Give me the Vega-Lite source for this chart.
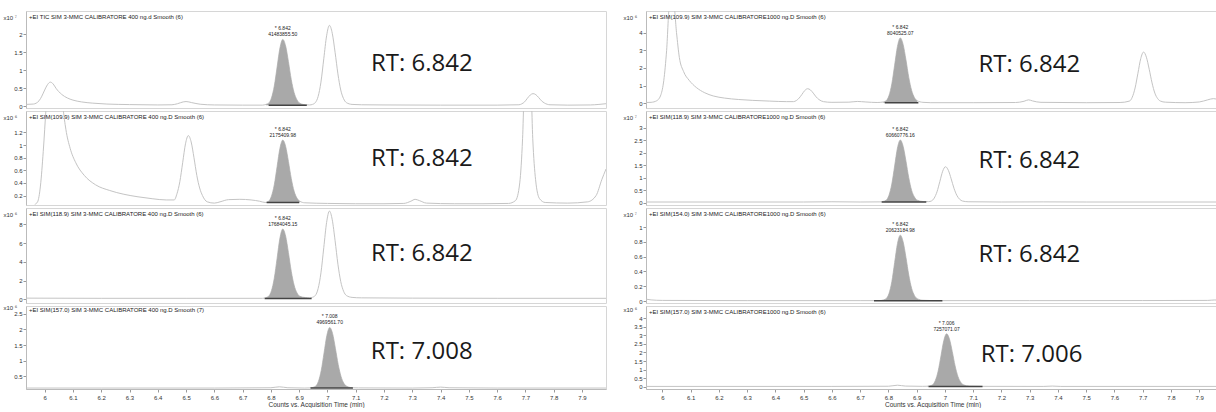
{
  "$schema": "https://vega.github.io/schema/vega-lite/v6.json",
  "padding": {"left": 2, "top": 10, "right": 0, "bottom": 0},
  "background": "white",
  "spacing": 15,
  "config": {
    "font": "Liberation Sans",
    "view": {"stroke": "#d6d6d6", "strokeWidth": 1},
    "axis": {"labelFontSize": 6, "labelColor": "#333333", "tickColor": "#999999", "tickSize": 3, "domainColor": "#bbbbbb", "grid": false, "labelPadding": 1, "titleFontWeight": "normal", "titleFontSize": 6, "titleColor": "#333333", "format": "~g"},
    "axisY": {"titleAngle": 0, "titleAlign": "left", "titleBaseline": "middle", "titleX": -23, "titleY": 6},
    "title": {"anchor": "start", "frame": "group", "fontSize": 6, "fontWeight": "normal", "offset": -9, "dx": 3, "color": "#222222"}
  },
  "datasets": {
    "ann": [
      {"p":"L1","rt":6.842,"h":1.86,"area":"41483855.50","b0":6.792,"b1":6.927,"base":0.03},
      {"p":"L2","rt":6.842,"h":1.08,"area":"2175409.98","b0":6.785,"b1":6.9,"base":0.09},
      {"p":"L3","rt":6.842,"h":7.5,"area":"17684045.15","b0":6.778,"b1":6.944,"base":0.08},
      {"p":"L4","rt":7.008,"h":2.06,"area":"4969561.70","b0":6.94,"b1":7.09,"base":0.13},
      {"p":"R1","rt":6.842,"h":3.7,"area":"8040525.07","b0":6.787,"b1":6.906,"base":0.04},
      {"p":"R2","rt":6.842,"h":2.5,"area":"60660776.16","b0":6.776,"b1":6.934,"base":0.02},
      {"p":"R3","rt":6.842,"h":0.89,"area":"20623184.98","b0":6.749,"b1":6.991,"base":0.004},
      {"p":"R4","rt":7.006,"h":3.09,"area":"7257071.07","b0":6.942,"b1":7.133,"base":0.03}
    ],
    "L1": [{"t":5.934,"v":0.05},{"t":5.96,"v":0.06},{"t":5.98,"v":0.15},{"t":5.99,"v":0.28},{"t":6.0,"v":0.45},{"t":6.01,"v":0.6},{"t":6.02,"v":0.67},{"t":6.03,"v":0.62},{"t":6.04,"v":0.5},{"t":6.06,"v":0.33},{"t":6.08,"v":0.23},{"t":6.1,"v":0.17},{"t":6.13,"v":0.12},{"t":6.17,"v":0.085},{"t":6.22,"v":0.06},{"t":6.3,"v":0.045},{"t":6.4,"v":0.035},{"t":6.45,"v":0.04},{"t":6.47,"v":0.07},{"t":6.49,"v":0.12},{"t":6.5,"v":0.13},{"t":6.52,"v":0.1},{"t":6.55,"v":0.055},{"t":6.6,"v":0.035},{"t":6.7,"v":0.03},{"t":6.77,"v":0.03},{"t":6.782,"v":0.05},{"t":6.792,"v":0.085},{"t":6.802,"v":0.23},{"t":6.812,"v":0.56},{"t":6.822,"v":1.09},{"t":6.832,"v":1.62},{"t":6.842,"v":1.86},{"t":6.852,"v":1.68},{"t":6.862,"v":1.24},{"t":6.872,"v":0.74},{"t":6.882,"v":0.38},{"t":6.892,"v":0.18},{"t":6.902,"v":0.085},{"t":6.922,"v":0.04},{"t":6.937,"v":0.035},{"t":6.947,"v":0.05},{"t":6.957,"v":0.1},{"t":6.967,"v":0.27},{"t":6.977,"v":0.67},{"t":6.987,"v":1.32},{"t":6.997,"v":1.96},{"t":7.007,"v":2.25},{"t":7.017,"v":2.03},{"t":7.027,"v":1.5},{"t":7.037,"v":0.9},{"t":7.047,"v":0.45},{"t":7.057,"v":0.21},{"t":7.067,"v":0.1},{"t":7.087,"v":0.05},{"t":7.12,"v":0.04},{"t":7.2,"v":0.035},{"t":7.4,"v":0.03},{"t":7.6,"v":0.03},{"t":7.677,"v":0.04},{"t":7.687,"v":0.065},{"t":7.697,"v":0.12},{"t":7.707,"v":0.22},{"t":7.717,"v":0.31},{"t":7.727,"v":0.35},{"t":7.737,"v":0.32},{"t":7.747,"v":0.24},{"t":7.757,"v":0.15},{"t":7.767,"v":0.09},{"t":7.787,"v":0.04},{"t":7.85,"v":0.03},{"t":7.93,"v":0.035},{"t":7.96,"v":0.05},{"t":7.985,"v":0.07}],
    "L2": [{"t":5.965,"v":0.06},{"t":5.975,"v":0.1},{"t":5.985,"v":0.35},{"t":5.995,"v":0.9},{"t":6.005,"v":1.6},{"t":6.02,"v":2.6},{"t":6.04,"v":3.0},{"t":6.055,"v":2.2},{"t":6.065,"v":1.6},{"t":6.075,"v":1.25},{"t":6.09,"v":0.95},{"t":6.11,"v":0.72},{"t":6.14,"v":0.52},{"t":6.18,"v":0.37},{"t":6.23,"v":0.28},{"t":6.28,"v":0.22},{"t":6.33,"v":0.18},{"t":6.38,"v":0.15},{"t":6.43,"v":0.13},{"t":6.458,"v":0.13},{"t":6.468,"v":0.23},{"t":6.478,"v":0.42},{"t":6.488,"v":0.72},{"t":6.498,"v":1.02},{"t":6.508,"v":1.15},{"t":6.518,"v":1.05},{"t":6.528,"v":0.8},{"t":6.538,"v":0.52},{"t":6.548,"v":0.32},{"t":6.558,"v":0.2},{"t":6.575,"v":0.1},{"t":6.6,"v":0.08},{"t":6.62,"v":0.1},{"t":6.65,"v":0.135},{"t":6.69,"v":0.14},{"t":6.73,"v":0.13},{"t":6.76,"v":0.11},{"t":6.78,"v":0.09},{"t":6.792,"v":0.11},{"t":6.802,"v":0.19},{"t":6.812,"v":0.37},{"t":6.822,"v":0.66},{"t":6.832,"v":0.95},{"t":6.842,"v":1.08},{"t":6.852,"v":0.98},{"t":6.862,"v":0.74},{"t":6.872,"v":0.47},{"t":6.882,"v":0.27},{"t":6.892,"v":0.16},{"t":6.902,"v":0.11},{"t":6.92,"v":0.085},{"t":7.0,"v":0.075},{"t":7.1,"v":0.07},{"t":7.2,"v":0.07},{"t":7.27,"v":0.075},{"t":7.295,"v":0.11},{"t":7.31,"v":0.14},{"t":7.325,"v":0.12},{"t":7.35,"v":0.08},{"t":7.45,"v":0.07},{"t":7.55,"v":0.07},{"t":7.64,"v":0.075},{"t":7.665,"v":0.12},{"t":7.68,"v":0.4},{"t":7.69,"v":1.1},{"t":7.7,"v":2.4},{"t":7.716,"v":2.4},{"t":7.726,"v":1.1},{"t":7.736,"v":0.45},{"t":7.75,"v":0.15},{"t":7.77,"v":0.09},{"t":7.85,"v":0.08},{"t":7.92,"v":0.1},{"t":7.95,"v":0.2},{"t":7.97,"v":0.45},{"t":7.985,"v":0.62}],
    "L3": [{"t":5.934,"v":0.12},{"t":6.2,"v":0.1},{"t":6.5,"v":0.1},{"t":6.77,"v":0.1},{"t":6.782,"v":0.17},{"t":6.792,"v":0.32},{"t":6.802,"v":0.91},{"t":6.812,"v":2.25},{"t":6.822,"v":4.39},{"t":6.832,"v":6.54},{"t":6.842,"v":7.5},{"t":6.852,"v":6.76},{"t":6.862,"v":4.98},{"t":6.872,"v":2.99},{"t":6.882,"v":1.51},{"t":6.892,"v":0.69},{"t":6.902,"v":0.32},{"t":6.922,"v":0.18},{"t":6.937,"v":0.14},{"t":6.947,"v":0.21},{"t":6.957,"v":0.4},{"t":6.967,"v":1.14},{"t":6.977,"v":2.82},{"t":6.987,"v":5.51},{"t":6.997,"v":8.21},{"t":7.007,"v":9.42},{"t":7.017,"v":8.49},{"t":7.027,"v":6.26},{"t":7.037,"v":3.75},{"t":7.047,"v":1.89},{"t":7.057,"v":0.86},{"t":7.067,"v":0.4},{"t":7.087,"v":0.2},{"t":7.12,"v":0.15},{"t":7.3,"v":0.12},{"t":7.6,"v":0.1},{"t":7.985,"v":0.1}],
    "L4": [{"t":5.934,"v":0.13},{"t":6.2,"v":0.13},{"t":6.6,"v":0.13},{"t":6.8,"v":0.14},{"t":6.83,"v":0.17},{"t":6.86,"v":0.14},{"t":6.92,"v":0.13},{"t":6.938,"v":0.135},{"t":6.948,"v":0.15},{"t":6.958,"v":0.19},{"t":6.968,"v":0.34},{"t":6.978,"v":0.69},{"t":6.988,"v":1.25},{"t":6.998,"v":1.81},{"t":7.008,"v":2.06},{"t":7.018,"v":1.87},{"t":7.028,"v":1.4},{"t":7.038,"v":0.88},{"t":7.048,"v":0.5},{"t":7.058,"v":0.28},{"t":7.068,"v":0.19},{"t":7.088,"v":0.14},{"t":7.11,"v":0.135},{"t":7.3,"v":0.13},{"t":7.37,"v":0.14},{"t":7.4,"v":0.16},{"t":7.43,"v":0.14},{"t":7.6,"v":0.13},{"t":7.985,"v":0.13}],
    "R1": [{"t":5.942,"v":0.05},{"t":5.96,"v":0.06},{"t":5.98,"v":0.15},{"t":5.995,"v":0.5},{"t":6.005,"v":1.3},{"t":6.015,"v":3.0},{"t":6.025,"v":5.5},{"t":6.04,"v":5.6},{"t":6.05,"v":4.0},{"t":6.06,"v":2.6},{"t":6.075,"v":1.8},{"t":6.095,"v":1.3},{"t":6.12,"v":0.9},{"t":6.15,"v":0.6},{"t":6.18,"v":0.42},{"t":6.22,"v":0.3},{"t":6.27,"v":0.22},{"t":6.32,"v":0.17},{"t":6.38,"v":0.13},{"t":6.44,"v":0.1},{"t":6.464,"v":0.1},{"t":6.474,"v":0.16},{"t":6.484,"v":0.3},{"t":6.494,"v":0.51},{"t":6.504,"v":0.73},{"t":6.514,"v":0.83},{"t":6.524,"v":0.76},{"t":6.534,"v":0.58},{"t":6.544,"v":0.37},{"t":6.554,"v":0.22},{"t":6.57,"v":0.1},{"t":6.6,"v":0.06},{"t":6.66,"v":0.07},{"t":6.69,"v":0.11},{"t":6.72,"v":0.08},{"t":6.76,"v":0.05},{"t":6.782,"v":0.08},{"t":6.792,"v":0.15},{"t":6.802,"v":0.44},{"t":6.812,"v":1.1},{"t":6.822,"v":2.16},{"t":6.832,"v":3.22},{"t":6.842,"v":3.7},{"t":6.852,"v":3.33},{"t":6.862,"v":2.46},{"t":6.872,"v":1.47},{"t":6.882,"v":0.74},{"t":6.892,"v":0.33},{"t":6.902,"v":0.15},{"t":6.922,"v":0.06},{"t":6.95,"v":0.04},{"t":7.1,"v":0.04},{"t":7.25,"v":0.05},{"t":7.28,"v":0.12},{"t":7.296,"v":0.2},{"t":7.31,"v":0.14},{"t":7.34,"v":0.06},{"t":7.5,"v":0.04},{"t":7.62,"v":0.05},{"t":7.653,"v":0.13},{"t":7.663,"v":0.35},{"t":7.673,"v":0.87},{"t":7.683,"v":1.7},{"t":7.693,"v":2.53},{"t":7.703,"v":2.9},{"t":7.713,"v":2.61},{"t":7.723,"v":1.93},{"t":7.733,"v":1.16},{"t":7.743,"v":0.58},{"t":7.753,"v":0.27},{"t":7.763,"v":0.13},{"t":7.78,"v":0.07},{"t":7.85,"v":0.04},{"t":7.9,"v":0.08},{"t":7.93,"v":0.2},{"t":7.95,"v":0.27},{"t":7.97,"v":0.2}],
    "R2": [{"t":5.942,"v":0.02},{"t":6.5,"v":0.02},{"t":6.6,"v":0.03},{"t":6.7,"v":0.02},{"t":6.77,"v":0.025},{"t":6.782,"v":0.045},{"t":6.792,"v":0.094},{"t":6.802,"v":0.29},{"t":6.812,"v":0.74},{"t":6.822,"v":1.46},{"t":6.832,"v":2.18},{"t":6.842,"v":2.5},{"t":6.852,"v":2.25},{"t":6.862,"v":1.66},{"t":6.872,"v":0.99},{"t":6.882,"v":0.49},{"t":6.892,"v":0.22},{"t":6.902,"v":0.094},{"t":6.922,"v":0.04},{"t":6.942,"v":0.035},{"t":6.952,"v":0.06},{"t":6.962,"v":0.175},{"t":6.972,"v":0.43},{"t":6.982,"v":0.84},{"t":6.992,"v":1.25},{"t":7.002,"v":1.43},{"t":7.012,"v":1.29},{"t":7.022,"v":0.95},{"t":7.032,"v":0.57},{"t":7.042,"v":0.29},{"t":7.052,"v":0.13},{"t":7.062,"v":0.06},{"t":7.082,"v":0.03},{"t":7.2,"v":0.02},{"t":7.35,"v":0.025},{"t":7.5,"v":0.02},{"t":7.97,"v":0.02}],
    "R3": [{"t":5.942,"v":0.025},{"t":5.96,"v":0.015},{"t":6.0,"v":0.008},{"t":6.3,"v":0.005},{"t":6.7,"v":0.005},{"t":6.75,"v":0.005},{"t":6.77,"v":0.006},{"t":6.782,"v":0.014},{"t":6.792,"v":0.032},{"t":6.802,"v":0.1},{"t":6.812,"v":0.26},{"t":6.822,"v":0.52},{"t":6.832,"v":0.775},{"t":6.842,"v":0.89},{"t":6.852,"v":0.8},{"t":6.862,"v":0.59},{"t":6.872,"v":0.35},{"t":6.882,"v":0.173},{"t":6.892,"v":0.076},{"t":6.902,"v":0.032},{"t":6.922,"v":0.01},{"t":6.95,"v":0.006},{"t":6.99,"v":0.005},{"t":7.3,"v":0.005},{"t":7.7,"v":0.006},{"t":7.93,"v":0.008},{"t":7.955,"v":0.014},{"t":7.97,"v":0.01}],
    "R4": [{"t":5.942,"v":0.03},{"t":6.6,"v":0.03},{"t":6.8,"v":0.04},{"t":6.832,"v":0.1},{"t":6.86,"v":0.05},{"t":6.92,"v":0.035},{"t":6.936,"v":0.04},{"t":6.946,"v":0.06},{"t":6.956,"v":0.12},{"t":6.966,"v":0.37},{"t":6.976,"v":0.92},{"t":6.986,"v":1.8},{"t":6.996,"v":2.69},{"t":7.006,"v":3.09},{"t":7.016,"v":2.78},{"t":7.026,"v":2.05},{"t":7.036,"v":1.22},{"t":7.046,"v":0.61},{"t":7.056,"v":0.27},{"t":7.066,"v":0.12},{"t":7.086,"v":0.05},{"t":7.13,"v":0.035},{"t":7.35,"v":0.03},{"t":7.38,"v":0.05},{"t":7.41,"v":0.03},{"t":7.97,"v":0.03}]
  },
  "hconcat": [
    {
      "spacing": 3,
      "bounds": "flush",
      "vconcat": [
        {
          "width": 580, "height": 97,
          "title": {"text": "+EI TIC SIM 3-MMC CALIBRATORE 400 ng.d  Smooth (6)"},
          "encoding": {
            "x": {"field": "t", "type": "quantitative", "scale": {"domain": [5.934, 7.985], "nice": false, "zero": false}, "axis": null},
            "y": {"field": "v", "type": "quantitative", "scale": {"domain": [-0.05, 2.65], "nice": false, "zero": false}, "axis": {"title": "x10 ⁷", "values": [0, 0.5, 1, 1.5, 2]}}
          },
          "layer": [
            {"data": {"name": "L1"}, "mark": {"type": "line", "color": "#c4c4c4", "strokeWidth": 1, "interpolate": "monotone", "clip": true}},
            {"data": {"name": "L1"}, "mark": {"type": "area", "color": "#a9a9a9", "interpolate": "monotone", "clip": true}, "transform": [{"filter": "datum.t >= 6.782 && datum.t <= 6.922"}], "encoding": {"y2": {"datum": 0.03}}},
            {"data": {"name": "ann"}, "transform": [{"filter": "datum.p == 'L1'"}], "layer": [
              {"mark": {"type": "rule", "color": "#444444", "strokeWidth": 1.5}, "encoding": {"x": {"field": "b0"}, "x2": {"field": "b1"}, "y": {"field": "base"}}},
              {"mark": {"type": "text", "baseline": "bottom", "dy": -8, "fontSize": 5, "color": "#222222"}, "encoding": {"x": {"field": "rt"}, "y": {"field": "h"}, "text": {"value": "* 6.842"}}},
              {"mark": {"type": "text", "baseline": "bottom", "dy": -2, "fontSize": 5, "color": "#222222"}, "encoding": {"x": {"field": "rt"}, "y": {"field": "h"}, "text": {"field": "area"}}},
              {"mark": {"type": "text", "font": "Open Sans", "fontSize": 24, "color": "#1a1a1a", "baseline": "middle", "dx": 139, "dy": 25}, "encoding": {"x": {"field": "rt"}, "y": {"field": "h"}, "text": {"value": "RT: 6.842"}}}
            ]}
          ]
        },
        {
          "width": 580, "height": 94,
          "title": {"text": "+EI SIM(109.9) SIM 3-MMC CALIBRATORE 400 ng.D  Smooth (6)"},
          "encoding": {
            "x": {"field": "t", "type": "quantitative", "scale": {"domain": [5.934, 7.985], "nice": false, "zero": false}, "axis": null},
            "y": {"field": "v", "type": "quantitative", "scale": {"domain": [0.05, 1.54], "nice": false, "zero": false}, "axis": {"title": "x10 ⁶", "values": [0.2, 0.4, 0.6, 0.8, 1, 1.2]}}
          },
          "layer": [
            {"data": {"name": "L2"}, "mark": {"type": "line", "color": "#c4c4c4", "strokeWidth": 1, "interpolate": "monotone", "clip": true}},
            {"data": {"name": "L2"}, "mark": {"type": "area", "color": "#a9a9a9", "interpolate": "monotone", "clip": true}, "transform": [{"filter": "datum.t >= 6.78 && datum.t <= 6.905"}], "encoding": {"y2": {"datum": 0.09}}},
            {"data": {"name": "ann"}, "transform": [{"filter": "datum.p == 'L2'"}], "layer": [
              {"mark": {"type": "rule", "color": "#444444", "strokeWidth": 1.5}, "encoding": {"x": {"field": "b0"}, "x2": {"field": "b1"}, "y": {"field": "base"}}},
              {"mark": {"type": "text", "baseline": "bottom", "dy": -8, "fontSize": 5, "color": "#222222"}, "encoding": {"x": {"field": "rt"}, "y": {"field": "h"}, "text": {"value": "* 6.842"}}},
              {"mark": {"type": "text", "baseline": "bottom", "dy": -2, "fontSize": 5, "color": "#222222"}, "encoding": {"x": {"field": "rt"}, "y": {"field": "h"}, "text": {"field": "area"}}},
              {"mark": {"type": "text", "font": "Open Sans", "fontSize": 24, "color": "#1a1a1a", "baseline": "middle", "dx": 139, "dy": 19}, "encoding": {"x": {"field": "rt"}, "y": {"field": "h"}, "text": {"value": "RT: 6.842"}}}
            ]}
          ]
        },
        {
          "width": 580, "height": 95,
          "title": {"text": "+EI SIM(118.9) SIM 3-MMC CALIBRATORE 400 ng.D  Smooth (6)"},
          "encoding": {
            "x": {"field": "t", "type": "quantitative", "scale": {"domain": [5.934, 7.985], "nice": false, "zero": false}, "axis": null},
            "y": {"field": "v", "type": "quantitative", "scale": {"domain": [-0.4, 9.75], "nice": false, "zero": false}, "axis": {"title": "x10 ⁶", "values": [0, 2, 4, 6, 8]}}
          },
          "layer": [
            {"data": {"name": "L3"}, "mark": {"type": "line", "color": "#c4c4c4", "strokeWidth": 1, "interpolate": "monotone", "clip": true}},
            {"data": {"name": "L3"}, "mark": {"type": "area", "color": "#a9a9a9", "interpolate": "monotone", "clip": true}, "transform": [{"filter": "datum.t >= 6.778 && datum.t <= 6.94"}], "encoding": {"y2": {"datum": 0.1}}},
            {"data": {"name": "ann"}, "transform": [{"filter": "datum.p == 'L3'"}], "layer": [
              {"mark": {"type": "rule", "color": "#444444", "strokeWidth": 1.5}, "encoding": {"x": {"field": "b0"}, "x2": {"field": "b1"}, "y": {"field": "base"}}},
              {"mark": {"type": "text", "baseline": "bottom", "dy": -8, "fontSize": 5, "color": "#222222"}, "encoding": {"x": {"field": "rt"}, "y": {"field": "h"}, "text": {"value": "* 6.842"}}},
              {"mark": {"type": "text", "baseline": "bottom", "dy": -2, "fontSize": 5, "color": "#222222"}, "encoding": {"x": {"field": "rt"}, "y": {"field": "h"}, "text": {"field": "area"}}},
              {"mark": {"type": "text", "font": "Open Sans", "fontSize": 24, "color": "#1a1a1a", "baseline": "middle", "dx": 139, "dy": 25}, "encoding": {"x": {"field": "rt"}, "y": {"field": "h"}, "text": {"value": "RT: 6.842"}}}
            ]}
          ]
        },
        {
          "width": 580, "height": 83,
          "title": {"text": "+EI SIM(157.0) SIM 3-MMC CALIBRATORE 400 ng.D  Smooth (7)"},
          "encoding": {
            "x": {"field": "t", "type": "quantitative", "scale": {"domain": [5.934, 7.985], "nice": false, "zero": false}, "axis": {"values": [6, 6.1, 6.2, 6.3, 6.4, 6.5, 6.6, 6.7, 6.8, 6.9, 7, 7.1, 7.2, 7.3, 7.4, 7.5, 7.6, 7.7, 7.8, 7.9], "title": "Counts vs. Acquisition Time (min)", "titleFontSize": 6.5, "titlePadding": 1, "labelPadding": 2}},
            "y": {"field": "v", "type": "quantitative", "scale": {"domain": [0.1, 2.745], "nice": false, "zero": false}, "axis": {"title": "x10 ⁶", "titleY": 1, "values": [0.5, 1, 1.5, 2, 2.5]}}
          },
          "layer": [
            {"data": {"name": "L4"}, "mark": {"type": "line", "color": "#c4c4c4", "strokeWidth": 1, "interpolate": "monotone", "clip": true}},
            {"data": {"name": "L4"}, "mark": {"type": "area", "color": "#a9a9a9", "interpolate": "monotone", "clip": true}, "transform": [{"filter": "datum.t >= 6.938 && datum.t <= 7.09"}], "encoding": {"y2": {"datum": 0.13}}},
            {"data": {"name": "ann"}, "transform": [{"filter": "datum.p == 'L4'"}], "layer": [
              {"mark": {"type": "rule", "color": "#444444", "strokeWidth": 1.5}, "encoding": {"x": {"field": "b0"}, "x2": {"field": "b1"}, "y": {"field": "base"}}},
              {"mark": {"type": "text", "baseline": "bottom", "dy": -8, "fontSize": 5, "color": "#222222"}, "encoding": {"x": {"field": "rt"}, "y": {"field": "h"}, "text": {"value": "* 7.008"}}},
              {"mark": {"type": "text", "baseline": "bottom", "dy": -2, "fontSize": 5, "color": "#222222"}, "encoding": {"x": {"field": "rt"}, "y": {"field": "h"}, "text": {"field": "area"}}},
              {"mark": {"type": "text", "font": "Open Sans", "fontSize": 24, "color": "#1a1a1a", "baseline": "middle", "dx": 92, "dy": 25}, "encoding": {"x": {"field": "rt"}, "y": {"field": "h"}, "text": {"value": "RT: 7.008"}}}
            ]}
          ]
        }
      ]
    },
    {
      "spacing": 3,
      "bounds": "flush",
      "vconcat": [
        {
          "width": 573, "height": 97,
          "title": {"text": "+EI SIM(109.9) SIM 3-MMC CALIBRATORE1000 ng.D  Smooth (6)"},
          "encoding": {
            "x": {"field": "t", "type": "quantitative", "scale": {"domain": [5.942, 7.97], "nice": false, "zero": false}, "axis": null},
            "y": {"field": "v", "type": "quantitative", "scale": {"domain": [-0.26, 5.22], "nice": false, "zero": false}, "axis": {"title": "x10 ⁶", "values": [0, 1, 2, 3, 4]}}
          },
          "layer": [
            {"data": {"name": "R1"}, "mark": {"type": "line", "color": "#c4c4c4", "strokeWidth": 1, "interpolate": "monotone", "clip": true}},
            {"data": {"name": "R1"}, "mark": {"type": "area", "color": "#a9a9a9", "interpolate": "monotone", "clip": true}, "transform": [{"filter": "datum.t >= 6.782 && datum.t <= 6.91"}], "encoding": {"y2": {"datum": 0.04}}},
            {"data": {"name": "ann"}, "transform": [{"filter": "datum.p == 'R1'"}], "layer": [
              {"mark": {"type": "rule", "color": "#444444", "strokeWidth": 1.5}, "encoding": {"x": {"field": "b0"}, "x2": {"field": "b1"}, "y": {"field": "base"}}},
              {"mark": {"type": "text", "baseline": "bottom", "dy": -8, "fontSize": 5, "color": "#222222"}, "encoding": {"x": {"field": "rt"}, "y": {"field": "h"}, "text": {"value": "* 6.842"}}},
              {"mark": {"type": "text", "baseline": "bottom", "dy": -2, "fontSize": 5, "color": "#222222"}, "encoding": {"x": {"field": "rt"}, "y": {"field": "h"}, "text": {"field": "area"}}},
              {"mark": {"type": "text", "font": "Open Sans", "fontSize": 24, "color": "#1a1a1a", "baseline": "middle", "dx": 129, "dy": 27}, "encoding": {"x": {"field": "rt"}, "y": {"field": "h"}, "text": {"value": "RT: 6.842"}}}
            ]}
          ]
        },
        {
          "width": 573, "height": 94,
          "title": {"text": "+EI SIM(118.9) SIM 3-MMC CALIBRATORE1000 ng.D  Smooth (6)"},
          "encoding": {
            "x": {"field": "t", "type": "quantitative", "scale": {"domain": [5.942, 7.97], "nice": false, "zero": false}, "axis": null},
            "y": {"field": "v", "type": "quantitative", "scale": {"domain": [-0.1, 3.66], "nice": false, "zero": false}, "axis": {"title": "x10 ⁷", "values": [0, 0.5, 1, 1.5, 2, 2.5, 3]}}
          },
          "layer": [
            {"data": {"name": "R2"}, "mark": {"type": "line", "color": "#c4c4c4", "strokeWidth": 1, "interpolate": "monotone", "clip": true}},
            {"data": {"name": "R2"}, "mark": {"type": "area", "color": "#a9a9a9", "interpolate": "monotone", "clip": true}, "transform": [{"filter": "datum.t >= 6.776 && datum.t <= 6.935"}], "encoding": {"y2": {"datum": 0.02}}},
            {"data": {"name": "ann"}, "transform": [{"filter": "datum.p == 'R2'"}], "layer": [
              {"mark": {"type": "rule", "color": "#444444", "strokeWidth": 1.5}, "encoding": {"x": {"field": "b0"}, "x2": {"field": "b1"}, "y": {"field": "base"}}},
              {"mark": {"type": "text", "baseline": "bottom", "dy": -8, "fontSize": 5, "color": "#222222"}, "encoding": {"x": {"field": "rt"}, "y": {"field": "h"}, "text": {"value": "* 6.842"}}},
              {"mark": {"type": "text", "baseline": "bottom", "dy": -2, "fontSize": 5, "color": "#222222"}, "encoding": {"x": {"field": "rt"}, "y": {"field": "h"}, "text": {"field": "area"}}},
              {"mark": {"type": "text", "font": "Open Sans", "fontSize": 24, "color": "#1a1a1a", "baseline": "middle", "dx": 129, "dy": 21}, "encoding": {"x": {"field": "rt"}, "y": {"field": "h"}, "text": {"value": "RT: 6.842"}}}
            ]}
          ]
        },
        {
          "width": 573, "height": 95,
          "title": {"text": "+EI SIM(154.0) SIM 3-MMC CALIBRATORE1000 ng.D  Smooth (6)"},
          "encoding": {
            "x": {"field": "t", "type": "quantitative", "scale": {"domain": [5.942, 7.97], "nice": false, "zero": false}, "axis": null},
            "y": {"field": "v", "type": "quantitative", "scale": {"domain": [-0.027, 1.257], "nice": false, "zero": false}, "axis": {"title": "x10 ⁷", "values": [0, 0.2, 0.4, 0.6, 0.8, 1]}}
          },
          "layer": [
            {"data": {"name": "R3"}, "mark": {"type": "line", "color": "#c4c4c4", "strokeWidth": 1, "interpolate": "monotone", "clip": true}},
            {"data": {"name": "R3"}, "mark": {"type": "area", "color": "#a9a9a9", "interpolate": "monotone", "clip": true}, "transform": [{"filter": "datum.t >= 6.749 && datum.t <= 6.991"}], "encoding": {"y2": {"datum": 0.005}}},
            {"data": {"name": "ann"}, "transform": [{"filter": "datum.p == 'R3'"}], "layer": [
              {"mark": {"type": "rule", "color": "#444444", "strokeWidth": 1.5}, "encoding": {"x": {"field": "b0"}, "x2": {"field": "b1"}, "y": {"field": "base"}}},
              {"mark": {"type": "text", "baseline": "bottom", "dy": -8, "fontSize": 5, "color": "#222222"}, "encoding": {"x": {"field": "rt"}, "y": {"field": "h"}, "text": {"value": "* 6.842"}}},
              {"mark": {"type": "text", "baseline": "bottom", "dy": -2, "fontSize": 5, "color": "#222222"}, "encoding": {"x": {"field": "rt"}, "y": {"field": "h"}, "text": {"field": "area"}}},
              {"mark": {"type": "text", "font": "Open Sans", "fontSize": 24, "color": "#1a1a1a", "baseline": "middle", "dx": 129, "dy": 20}, "encoding": {"x": {"field": "rt"}, "y": {"field": "h"}, "text": {"value": "RT: 6.842"}}}
            ]}
          ]
        },
        {
          "width": 573, "height": 83,
          "title": {"text": "+EI SIM(157.0) SIM 3-MMC CALIBRATORE1000 ng.D  Smooth (6)"},
          "encoding": {
            "x": {"field": "t", "type": "quantitative", "scale": {"domain": [5.942, 7.97], "nice": false, "zero": false}, "axis": {"values": [6, 6.1, 6.2, 6.3, 6.4, 6.5, 6.6, 6.7, 6.8, 6.9, 7, 7.1, 7.2, 7.3, 7.4, 7.5, 7.6, 7.7, 7.8, 7.9], "title": "Counts vs. Acquisition Time (min)", "titleFontSize": 6.5, "titlePadding": 1, "labelPadding": 2}},
            "y": {"field": "v", "type": "quantitative", "scale": {"domain": [-0.12, 4.7], "nice": false, "zero": false}, "axis": {"title": "x10 ⁶", "titleY": 3, "values": [0, 0.5, 1, 1.5, 2, 2.5, 3, 3.5, 4]}}
          },
          "layer": [
            {"data": {"name": "R4"}, "mark": {"type": "line", "color": "#c4c4c4", "strokeWidth": 1, "interpolate": "monotone", "clip": true}},
            {"data": {"name": "R4"}, "mark": {"type": "area", "color": "#a9a9a9", "interpolate": "monotone", "clip": true}, "transform": [{"filter": "datum.t >= 6.936 && datum.t <= 7.133"}], "encoding": {"y2": {"datum": 0.03}}},
            {"data": {"name": "ann"}, "transform": [{"filter": "datum.p == 'R4'"}], "layer": [
              {"mark": {"type": "rule", "color": "#444444", "strokeWidth": 1.5}, "encoding": {"x": {"field": "b0"}, "x2": {"field": "b1"}, "y": {"field": "base"}}},
              {"mark": {"type": "text", "baseline": "bottom", "dy": -8, "fontSize": 5, "color": "#222222"}, "encoding": {"x": {"field": "rt"}, "y": {"field": "h"}, "text": {"value": "* 7.006"}}},
              {"mark": {"type": "text", "baseline": "bottom", "dy": -2, "fontSize": 5, "color": "#222222"}, "encoding": {"x": {"field": "rt"}, "y": {"field": "h"}, "text": {"field": "area"}}},
              {"mark": {"type": "text", "font": "Open Sans", "fontSize": 24, "color": "#1a1a1a", "baseline": "middle", "dx": 85, "dy": 21}, "encoding": {"x": {"field": "rt"}, "y": {"field": "h"}, "text": {"value": "RT: 7.006"}}}
            ]}
          ]
        }
      ]
    }
  ]
}
